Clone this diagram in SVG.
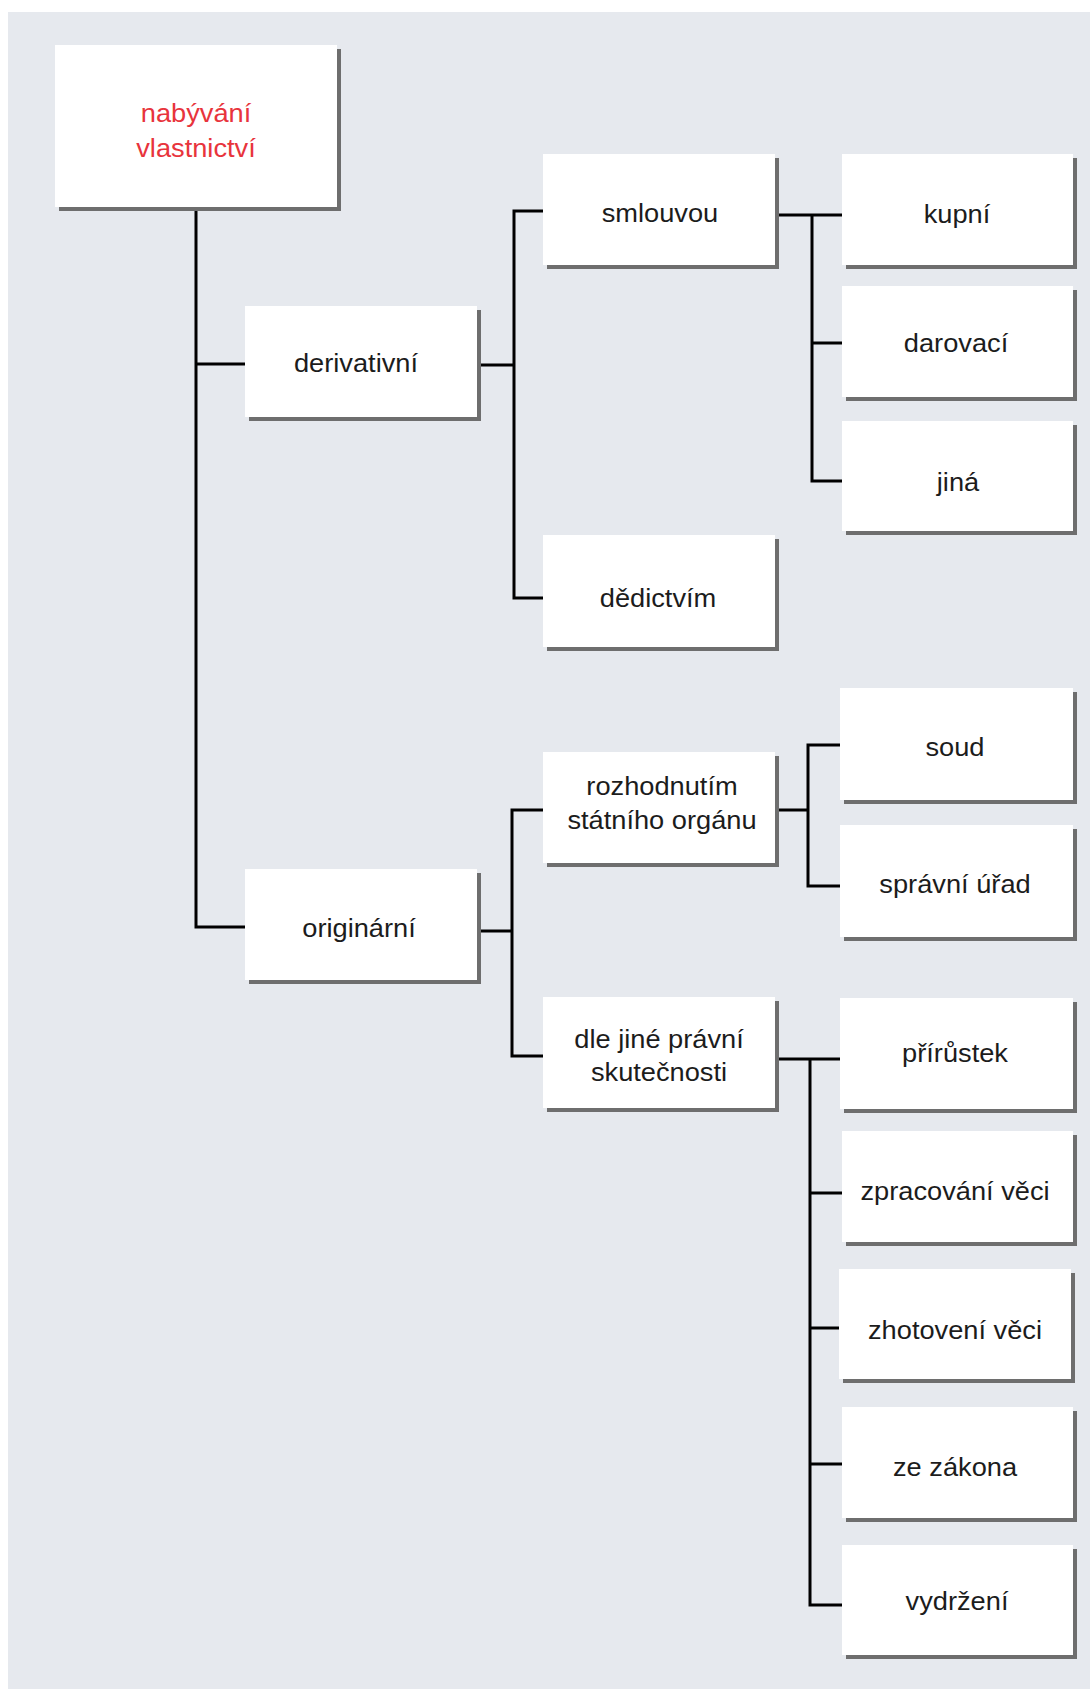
<svg xmlns="http://www.w3.org/2000/svg" width="1090" height="1689" viewBox="0 0 1090 1689">
<style>
.sh{fill:#6e6e6e}
.bx{fill:#ffffff}
.t{font-family:"Liberation Sans",Arial,sans-serif;font-size:25px;fill:#1c1c1c;text-anchor:middle}
.r{fill:#e8343c}
.c{fill:none;stroke:#000;stroke-width:3;stroke-linejoin:miter;stroke-linecap:butt}
</style>
<rect x="0" y="0" width="1090" height="1689" fill="#ffffff"/>
<rect x="8" y="12" width="1082" height="1677" fill="#e6e9ee"/>
<g id="connectors">
<path class="c" d="M196 207 V927 H245"/>
<path class="c" d="M196 364 H245"/>
<path class="c" d="M477 365 H514"/>
<path class="c" d="M543 211 H514 V598 H543"/>
<path class="c" d="M775 215 H842"/>
<path class="c" d="M812 215 V481 H842"/>
<path class="c" d="M812 343 H842"/>
<path class="c" d="M477 931 H512"/>
<path class="c" d="M543 810 H512 V1056 H543"/>
<path class="c" d="M775 810 H808"/>
<path class="c" d="M840 745 H808 V886 H840"/>
<path class="c" d="M775 1059 H840"/>
<path class="c" d="M810 1059 V1605 H842"/>
<path class="c" d="M810 1193 H842"/>
<path class="c" d="M810 1328 H839"/>
<path class="c" d="M810 1464 H842"/>
</g>
<g id="root">
<rect class="sh" x="59" y="49" width="282" height="162"/>
<rect class="bx" x="55" y="45" width="282" height="162"/>
<text class="t r" transform="translate(196 122) scale(1.09 1)">nabývání</text>
<text class="t r" transform="translate(196 157) scale(1.09 1)">vlastnictví</text>
</g>
<g id="derivativni">
<rect class="sh" x="249" y="310" width="232" height="111"/>
<rect class="bx" x="245" y="306" width="232" height="111"/>
<text class="t" transform="translate(356 372) scale(1.09 1)">derivativní</text>
</g>
<g id="originarni">
<rect class="sh" x="249" y="873" width="232" height="111"/>
<rect class="bx" x="245" y="869" width="232" height="111"/>
<text class="t" transform="translate(359 937) scale(1.09 1)">originární</text>
</g>
<g id="smlouvou">
<rect class="sh" x="547" y="158" width="232" height="111"/>
<rect class="bx" x="543" y="154" width="232" height="111"/>
<text class="t" transform="translate(660 222) scale(1.09 1)">smlouvou</text>
</g>
<g id="dedictvim">
<rect class="sh" x="547" y="539" width="232" height="112"/>
<rect class="bx" x="543" y="535" width="232" height="112"/>
<text class="t" transform="translate(658 607) scale(1.09 1)">dědictvím</text>
</g>
<g id="rozhodnutim">
<rect class="sh" x="547" y="756" width="232" height="111"/>
<rect class="bx" x="543" y="752" width="232" height="111"/>
<text class="t" transform="translate(662 795) scale(1.09 1)">rozhodnutím</text>
<text class="t" transform="translate(662 829) scale(1.09 1)">státního orgánu</text>
</g>
<g id="dle-jine">
<rect class="sh" x="547" y="1001" width="232" height="111"/>
<rect class="bx" x="543" y="997" width="232" height="111"/>
<text class="t" transform="translate(659 1048) scale(1.09 1)">dle jiné právní</text>
<text class="t" transform="translate(659 1081) scale(1.09 1)">skutečnosti</text>
</g>
<g id="kupni">
<rect class="sh" x="846" y="158" width="231" height="111"/>
<rect class="bx" x="842" y="154" width="231" height="111"/>
<text class="t" transform="translate(957 223) scale(1.09 1)">kupní</text>
</g>
<g id="darovaci">
<rect class="sh" x="846" y="290" width="231" height="111"/>
<rect class="bx" x="842" y="286" width="231" height="111"/>
<text class="t" transform="translate(956 352) scale(1.09 1)">darovací</text>
</g>
<g id="jina">
<rect class="sh" x="846" y="425" width="231" height="110"/>
<rect class="bx" x="842" y="421" width="231" height="110"/>
<text class="t" transform="translate(958 491) scale(1.09 1)">jiná</text>
</g>
<g id="soud">
<rect class="sh" x="844" y="692" width="233" height="112"/>
<rect class="bx" x="840" y="688" width="233" height="112"/>
<text class="t" transform="translate(955 756) scale(1.09 1)">soud</text>
</g>
<g id="spravni-urad">
<rect class="sh" x="844" y="829" width="233" height="112"/>
<rect class="bx" x="840" y="825" width="233" height="112"/>
<text class="t" transform="translate(955 893) scale(1.09 1)">správní úřad</text>
</g>
<g id="prirustek">
<rect class="sh" x="844" y="1002" width="233" height="111"/>
<rect class="bx" x="840" y="998" width="233" height="111"/>
<text class="t" transform="translate(955 1062) scale(1.09 1)">přírůstek</text>
</g>
<g id="zpracovani">
<rect class="sh" x="846" y="1135" width="231" height="111"/>
<rect class="bx" x="842" y="1131" width="231" height="111"/>
<text class="t" transform="translate(955 1200) scale(1.09 1)">zpracování věci</text>
</g>
<g id="zhotoveni">
<rect class="sh" x="843" y="1273" width="232" height="110"/>
<rect class="bx" x="839" y="1269" width="232" height="110"/>
<text class="t" transform="translate(955 1339) scale(1.09 1)">zhotovení věci</text>
</g>
<g id="ze-zakona">
<rect class="sh" x="846" y="1411" width="231" height="111"/>
<rect class="bx" x="842" y="1407" width="231" height="111"/>
<text class="t" transform="translate(955 1476) scale(1.09 1)">ze zákona</text>
</g>
<g id="vydrzeni">
<rect class="sh" x="846" y="1549" width="231" height="110"/>
<rect class="bx" x="842" y="1545" width="231" height="110"/>
<text class="t" transform="translate(957 1610) scale(1.09 1)">vydržení</text>
</g>
</svg>
